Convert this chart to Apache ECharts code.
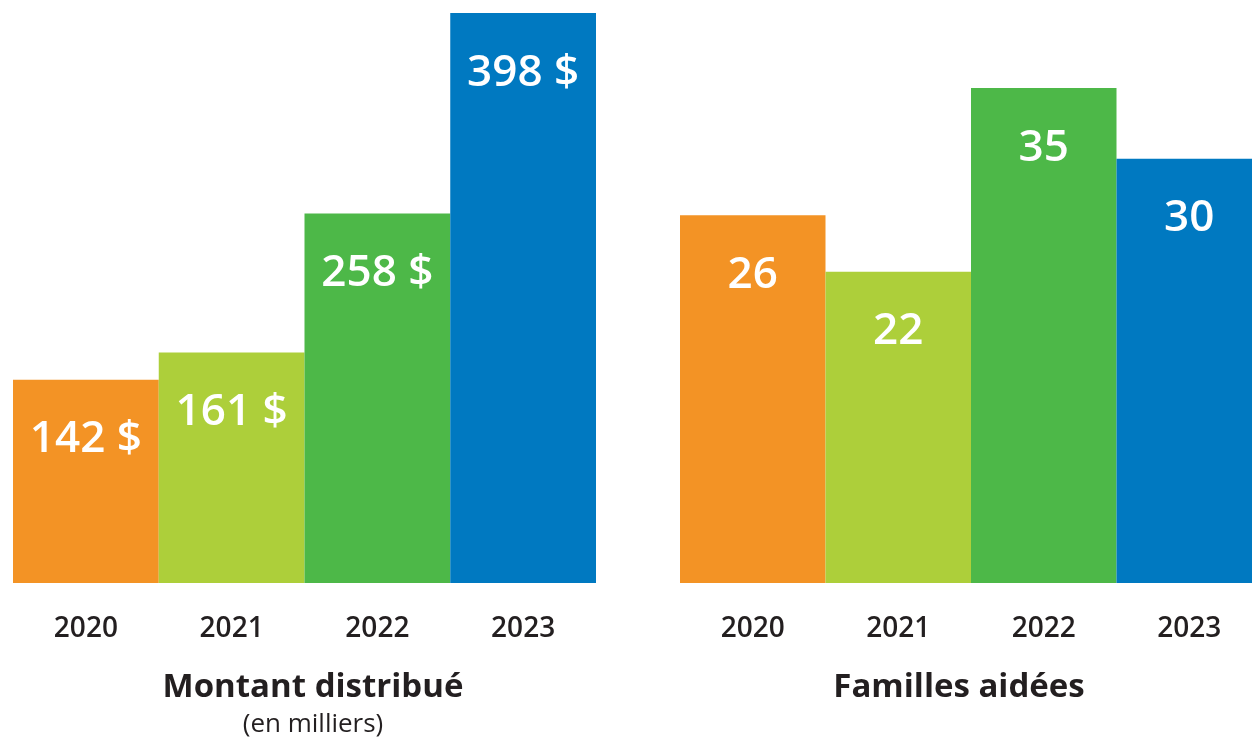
<!DOCTYPE html>
<html>
<head>
<meta charset="utf-8">
<script src="https://cdn.jsdelivr.net/npm/echarts@6/dist/echarts.min.js"></script>
<style>
  html, body { margin: 0; padding: 0; background: #fff; }
  #main { width: 1252px; height: 740px; }
</style>
</head>
<body>
<div id="main"></div>
<script>
// données
var years = ['2020', '2021', '2022', '2023'];
var montant = [142, 161, 258, 398];     // en milliers de $
var familles = [26, 22, 35, 30];
var barColors = ['#F39325', '#ADCF3A', '#4DB848', '#0079C1'];

var textColor = '#231F20';
var fontFam = '"Open Sans", "Noto Sans", sans-serif';

function colored(values) {
    return values.map(function (v, i) {
        return { value: v, itemStyle: { color: barColors[i] } };
    });
}

var myChart = echarts.init(document.getElementById('main'));

var xAxisBase = {
    type: 'category',
    axisLine: { show: false },
    axisTick: { show: false },
    axisLabel: {
        margin: 32,
        fontSize: 28,
        fontWeight: 600,
        fontFamily: fontFam,
        color: textColor
    }
};

var yAxisBase = {
    type: 'value',
    min: 0,
    max: 'dataMax',
    show: false,
    splitLine: { show: false }
};

var labelBase = {
    show: true,
    position: 'insideTop',
    distance: 38,
    color: '#fff',
    fontSize: 44,
    fontWeight: 600,
    fontFamily: fontFam
};

var option = {
    animation: false,
    grid: [
        { left: 13, top: 13, width: 583, height: 570, outerBoundsMode: 'none' },
        // le dernier bâton dépasse un peu du cadre à droite
        { left: 680, top: 88, width: 582, height: 495, outerBoundsMode: 'none' }
    ],
    xAxis: [
        Object.assign({ gridIndex: 0, data: years }, xAxisBase),
        Object.assign({ gridIndex: 1, data: years }, xAxisBase)
    ],
    yAxis: [
        Object.assign({ gridIndex: 0 }, yAxisBase),
        Object.assign({ gridIndex: 1 }, yAxisBase)
    ],
    series: [
        {
            name: 'Montant distribué',
            type: 'bar',
            xAxisIndex: 0,
            yAxisIndex: 0,
            barCategoryGap: '0%',
            data: colored(montant),
            label: Object.assign({ formatter: '{c} $' }, labelBase)
        },
        {
            name: 'Familles aidées',
            type: 'bar',
            xAxisIndex: 1,
            yAxisIndex: 1,
            barCategoryGap: '0%',
            data: colored(familles),
            label: Object.assign({ formatter: '{c}' }, labelBase)
        }
    ],
    graphic: [
        {
            type: 'text', x: 313, y: 688,
            style: {
                text: 'Montant distribué', fill: textColor,
                font: '700 33px ' + fontFam,
                align: 'center', verticalAlign: 'middle'
            }
        },
        {
            type: 'text', x: 313, y: 725,
            style: {
                text: '(en milliers)', fill: textColor,
                font: '400 26px ' + fontFam,
                align: 'center', verticalAlign: 'middle'
            }
        },
        {
            type: 'text', x: 959, y: 688,
            style: {
                text: 'Familles aidées', fill: textColor,
                font: '700 33px ' + fontFam,
                align: 'center', verticalAlign: 'middle'
            }
        }
    ]
};

myChart.setOption(option);
</script>
</body>
</html>
